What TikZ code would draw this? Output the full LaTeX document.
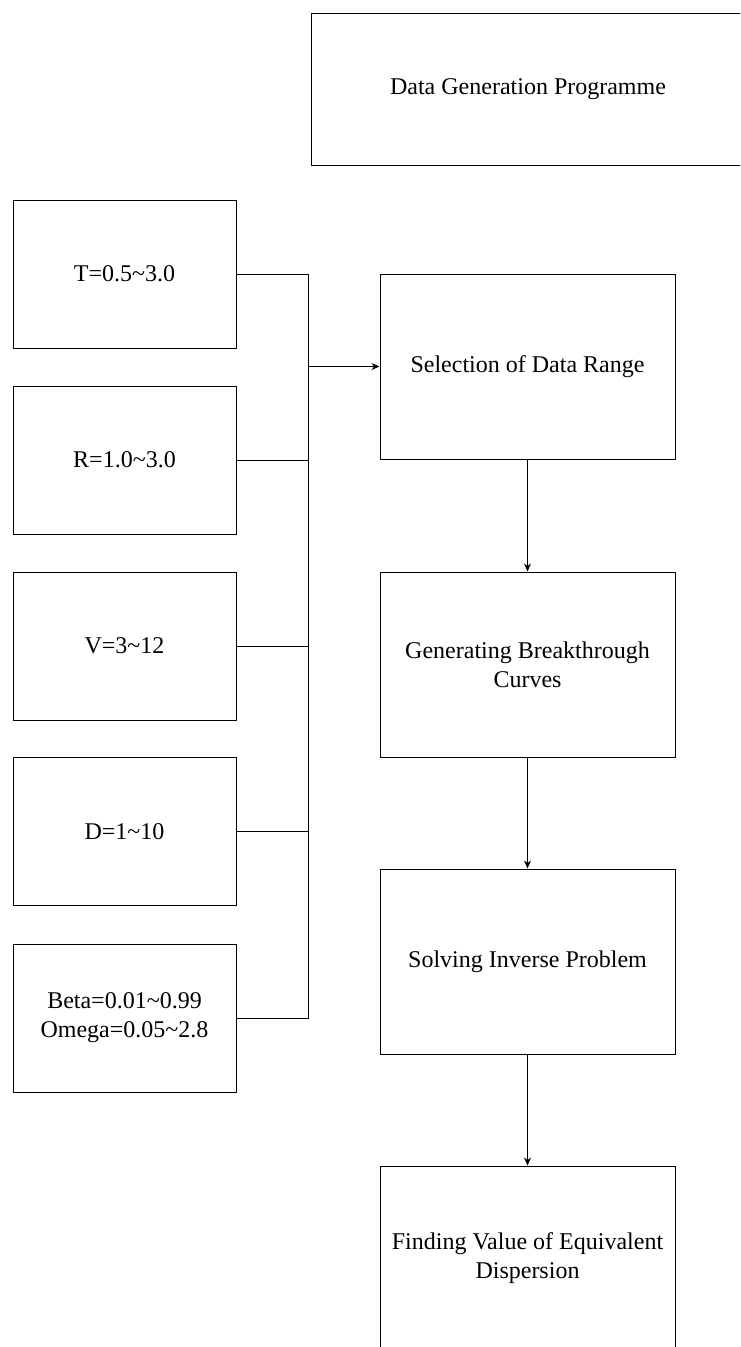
\documentclass[tikz,border=0pt]{standalone}
\usepackage{fontspec}
\setmainfont{Liberation Serif}
\usetikzlibrary{arrows.meta}
\begin{document}
\begin{tikzpicture}[x=1pt,y=-1pt,
  every node/.style={font=\fontsize{24}{29}\selectfont},
  leftbox/.style={draw,line width=1pt,minimum width=223pt,minimum height=148pt,align=center,inner sep=0pt},
  rightbox/.style={draw,line width=1pt,minimum width=295pt,minimum height=185pt,align=center,inner sep=0pt},
  topbox/.style={draw,line width=1pt,minimum width=434pt,minimum height=152pt,align=center,inner sep=0pt},
  conn/.style={line width=1pt},
  arr/.style={line width=1pt,-{Stealth[length=8pt,width=7pt]}}]
\useasboundingbox (0,0) rectangle (740,1347);
\clip (0,0) rectangle (740,1347);
\fill[white] (0,0) rectangle (740,1347);
\node[topbox] (top) at (528,89) {Data Generation Programme};
\node[leftbox] (T) at (124.5,274) {T=0.5\char"7E 3.0};
\node[leftbox] (R) at (124.5,460) {R=1.0\char"7E 3.0};
\node[leftbox] (V) at (124.5,646) {V=3\char"7E 12};
\node[leftbox] (D) at (124.5,831.5) {D=1\char"7E 10};
\node[leftbox] (B) at (124.5,1018) {Beta=0.01\char"7E 0.99\\Omega=0.05\char"7E 2.8};
\node[rightbox] (S) at (527.5,366.5) {Selection of Data Range};
\node[rightbox] (G) at (527.5,664.5) {Generating Breakthrough\\Curves};
\node[rightbox] (P) at (527.5,961.5) {Solving Inverse Problem};
\node[rightbox] (F) at (527.5,1258.5) {Finding Value of Equivalent\\Dispersion};
\coordinate (bus) at (308,0);
\draw[conn] (T.east) -- (T.east -| bus) -- (B.east -| bus) -- (B.east);
\draw[conn] (R.east) -- (R.east -| bus);
\draw[conn] (V.east) -- (V.east -| bus);
\draw[conn] (D.east) -- (D.east -| bus);
\draw[arr] (S.west -| bus) -- (S.west);
\draw[arr] (S.south) -- (G.north);
\draw[arr] (G.south) -- (P.north);
\draw[arr] (P.south) -- (F.north);
\end{tikzpicture}
\end{document}
